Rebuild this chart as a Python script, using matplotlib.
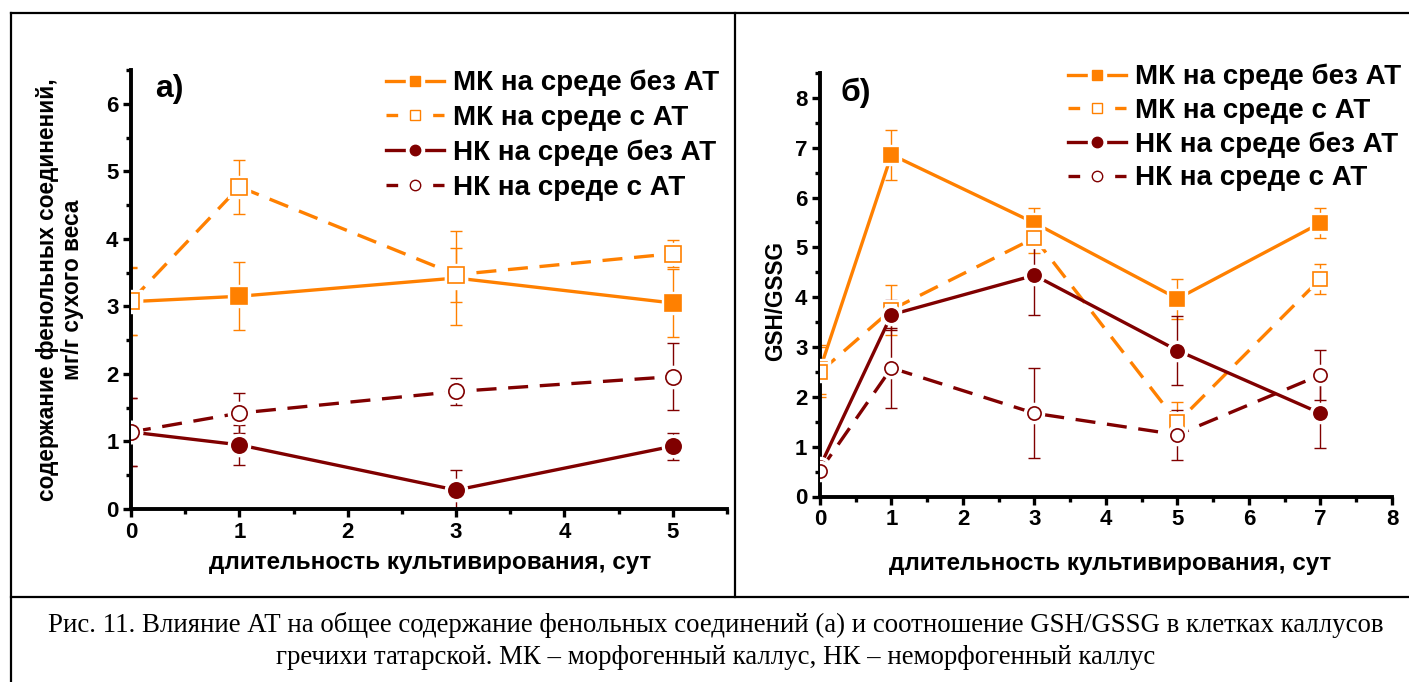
import matplotlib
matplotlib.use("Agg")
import matplotlib.pyplot as plt
from matplotlib.lines import Line2D
from matplotlib.legend_handler import HandlerTuple
from matplotlib.ticker import MultipleLocator

# ---------------- data ----------------
days_a = [0, 1, 3, 5]
mk_noat_a = [3.07, 3.15, 3.42, 3.05]
mk_noat_a_err = [0.5, 0.5, 0.7, 0.5]
mk_at_a = [3.08, 4.77, 3.47, 3.78]
mk_at_a_err = [0.5, 0.4, 0.4, 0.2]
nk_noat_a = [1.14, 0.95, 0.28, 0.93]
nk_noat_a_err = [0.5, 0.3, 0.3, 0.2]
nk_at_a = [1.14, 1.42, 1.74, 1.96]
nk_at_a_err = [0.5, 0.3, 0.2, 0.5]

days_b = [0, 1, 3, 5, 7]
mk_noat_b = [2.55, 6.86, 5.49, 3.97, 5.49]
mk_noat_b_err = [0.5, 0.5, 0.3, 0.4, 0.3]
mk_at_b = [2.50, 3.75, 5.19, 1.49, 4.37]
mk_at_b_err = [0.5, 0.5, 0.3, 0.4, 0.3]
nk_noat_b = [0.60, 3.65, 4.44, 2.93, 1.67]
nk_noat_b_err = [0.05, 0.3, 0.8, 0.7, 0.7]
nk_at_b = [0.52, 2.58, 1.67, 1.24, 2.44]
nk_at_b_err = [0.05, 0.8, 0.9, 0.5, 0.5]

series_labels = ["МК на среде без АТ", "МК на среде с АТ",
                 "НК на среде без АТ", "НК на среде с АТ"]
xlabel = "длительность культивирования, сут"
ylabel_a = "содержание фенольных соединений,\nмг/г сухого веса"
ylabel_b = "GSH/GSSG"
caption = ("Рис. 11. Влияние АТ на общее содержание фенольных соединений (а) и соотношение GSH/GSSG в клетках каллусов\n"
           "гречихи татарской. МК – морфогенный каллус, НК – неморфогенный каллус")

ORANGE = "#FF8000"
DRED = "#800000"
NARROW = ["Liberation Sans Narrow", "Liberation Sans", "DejaVu Sans"]
WIDE = ["Liberation Sans", "DejaVu Sans"]
SERIF = ["Liberation Serif", "DejaVu Serif"]
DASH = (0, (6, 3.5))

styles = [
    dict(color=ORANGE, ls="-", marker="s", mfc=ORANGE),
    dict(color=ORANGE, ls=DASH, marker="s", mfc="white"),
    dict(color=DRED, ls="-", marker="o", mfc=DRED),
    dict(color=DRED, ls=DASH, marker="o", mfc="white"),
]

fig = plt.figure(figsize=(14.09, 6.82), dpi=100)
fig.patch.set_facecolor("white")

ax_a = fig.add_axes([131 / 1409, 1 - 509 / 682, (727 - 131) / 1409, (509 - 70) / 682])
ax_b = fig.add_axes([820 / 1409, 1 - 496.5 / 682, (1392 - 820) / 1409, (496.5 - 73) / 682])


def draw(ax, x, ys, errs, ms):
    handles = []
    for i, (y, e, st) in enumerate(zip(ys, errs, styles)):
        ax.plot(x, y, color=st["color"], ls=st["ls"], lw=2.4, zorder=2,
                solid_capstyle="butt", dash_capstyle="butt")
        ax.errorbar(x, y, yerr=e, fmt="none", ecolor=st["color"], elinewidth=1.0,
                    capsize=4, capthick=1.0, zorder=2)
        ax.plot(x, y, ls="none", marker=st["marker"], ms=ms + 5, mfc="white",
                mec="white", zorder=3 + 2 * i)
        ax.plot(x, y, ls="none", marker=st["marker"], ms=ms, mfc=st["mfc"],
                mec=st["color"], mew=1.2, zorder=4 + 2 * i)
        ln = Line2D([], [], color=st["color"], ls=("-" if st["ls"] == "-" else (0, (3.5, 3.5))),
                    lw=2.4)
        halo = Line2D([], [], ls="none", marker=st["marker"], ms=13, mfc="white", mec="white")
        mk = Line2D([], [], ls="none", marker=st["marker"], ms=7.5, mfc=st["mfc"],
                    mec=st["color"], mew=1.0)
        handles.append((ln, halo, mk))
    return handles


h_a = draw(ax_a, days_a, [mk_noat_a, mk_at_a, nk_noat_a, nk_at_a],
           [mk_noat_a_err, mk_at_a_err, nk_noat_a_err, nk_at_a_err], 11)
h_b = draw(ax_b, days_b, [mk_noat_b, mk_at_b, nk_noat_b, nk_at_b],
           [mk_noat_b_err, mk_at_b_err, nk_noat_b_err, nk_at_b_err], 9.5)

for ax, xmax, ymax in [(ax_a, 5.5, 6.5), (ax_b, 8, 8.5)]:
    ax.set_xlim(0, xmax)
    ax.set_ylim(0, ymax)
    for s in ["top", "right"]:
        ax.spines[s].set_visible(False)
    for s in ["left", "bottom"]:
        ax.spines[s].set_linewidth(2.8)
    ax.xaxis.set_major_locator(MultipleLocator(1))
    ax.xaxis.set_minor_locator(MultipleLocator(0.5))
    ax.yaxis.set_major_locator(MultipleLocator(1))
    ax.yaxis.set_minor_locator(MultipleLocator(0.5))
    ax.tick_params(which="major", direction="out", length=6, width=2.4, pad=3)
    ax.tick_params(which="minor", direction="out", length=3.5, width=2.4)
    for lab in ax.get_xticklabels() + ax.get_yticklabels():
        lab.set_fontfamily(NARROW)
        lab.set_fontweight("bold")
        lab.set_fontsize(16)
    ax.set_xlabel(xlabel, fontfamily=WIDE, fontweight="bold", fontsize=17.5)
    ax.patch.set_alpha(0)

ax_a.set_xticks([0, 1, 2, 3, 4, 5])
ax_a.xaxis.set_label_coords(0.502, -0.121)
ax_b.xaxis.set_label_coords(0.507, -0.158)
ax_a.xaxis.label.set_va("center")
ax_b.xaxis.label.set_va("center")

ax_a.set_ylabel(ylabel_a, fontfamily=WIDE, fontweight="bold", fontsize=16.3,
                va="center", ha="center", multialignment="center", linespacing=1.15)
ax_a.yaxis.set_label_coords(-0.119, 0.5)
ax_b.set_ylabel(ylabel_b, fontfamily=WIDE, fontweight="bold", fontsize=16.3,
                va="center", ha="center")
ax_b.yaxis.set_label_coords(-0.077, 0.461)

ax_a.text(0.04, 0.99, "а)", transform=ax_a.transAxes, fontfamily=WIDE,
          fontweight="bold", fontsize=23, va="top", ha="left")
ax_b.text(0.035, 0.99, "б)", transform=ax_b.transAxes, fontfamily=WIDE,
          fontweight="bold", fontsize=23, va="top", ha="left")

for hs, anchor, lsp in [(h_a, (386 / 1409, 1 - 70 / 682), 0.31),
                        (h_b, (1068 / 1409, 1 - 64 / 682), 0.27)]:
    fig.legend(hs, series_labels, loc="upper left", bbox_to_anchor=anchor,
               bbox_transform=fig.transFigure, frameon=False,
               handler_map={tuple: HandlerTuple(ndivide=1, pad=0)},
               handlelength=2.1, handletextpad=0.3, labelspacing=lsp,
               borderpad=0, borderaxespad=0,
               prop=dict(family=NARROW, weight="bold", size=20))

# frame lines
lw_frame = 1.6
fig.add_artist(Line2D([11 / 1409, 1.0], [1 - 13 / 682] * 2, color="black", lw=lw_frame,
                      transform=fig.transFigure))
fig.add_artist(Line2D([11 / 1409] * 2, [0, 1 - 13 / 682], color="black", lw=lw_frame,
                      transform=fig.transFigure))
fig.add_artist(Line2D([735 / 1409] * 2, [1 - 597 / 682, 1 - 13 / 682], color="black",
                      lw=lw_frame, transform=fig.transFigure))
fig.add_artist(Line2D([11 / 1409, 1.0], [1 - 597 / 682] * 2, color="black", lw=lw_frame,
                      transform=fig.transFigure))

fig.text(716 / 1409, 1 - 641 / 682, caption, ha="center", va="center",
         fontfamily=SERIF, fontsize=19.4, linespacing=1.36)

fig.savefig("out.png", dpi=100)
